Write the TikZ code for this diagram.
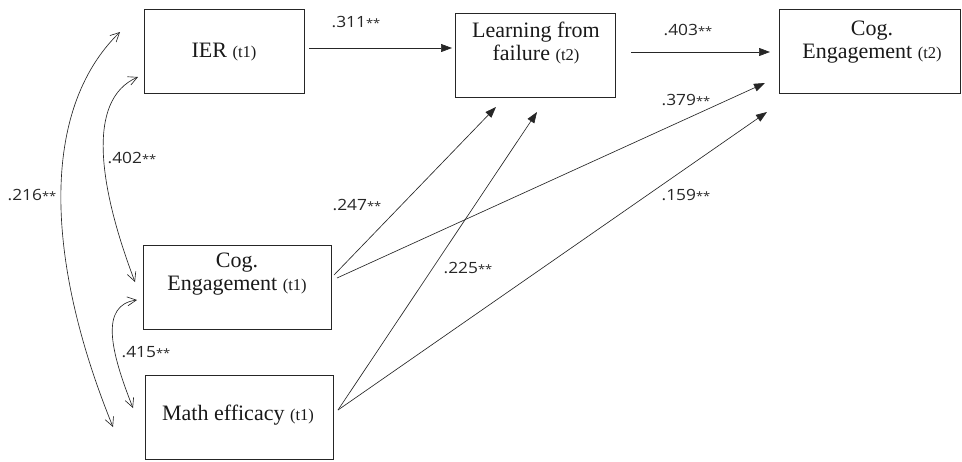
\documentclass[tikz,border=0pt]{standalone}
\usepackage{fontspec}
\setmainfont{Liberation Serif}
\newfontfamily\labfont{Open Sans}[FakeStretch=1.12]
\usetikzlibrary{arrows.meta}
\begin{document}
\begin{tikzpicture}[x=1pt,y=-1pt,
  box/.style={draw=black!85, line width=0.9pt, inner sep=0pt},
  boxtext/.style={align=center, inner sep=0pt, font=\fontsize{22}{23}\selectfont, text=black!90},
  coef/.style={inner sep=0pt, font=\labfont\fontsize{15.5}{16}\selectfont, text=black!85},
  path/.style={draw=black!85, line width=0.65pt, -{Triangle[length=11pt,width=8pt]}},
  cov/.style={draw=black!85, line width=0.65pt, {Straight Barb[length=9pt,width=9pt]}-{Straight Barb[length=9pt,width=9pt]}}
]
\useasboundingbox (0,0) rectangle (962,461);
\newcommand{\timept}[1]{{\fontsize{16.5}{17}\selectfont(#1)}}
\newcommand{\stars}{{\fontsize{11.5}{12}\selectfont**}}

% boxes
\node[box, minimum width=160, minimum height=84] (ier) at (224,51) {};
\node[box, minimum width=160, minimum height=84] (lff) at (535,55) {};
\node[box, minimum width=181, minimum height=84] (cog2) at (869.5,51) {};
\node[box, minimum width=188, minimum height=84] (cog1) at (237,287) {};
\node[box, minimum width=188, minimum height=84] (math) at (239,417) {};

% box texts
\node[boxtext] (iert) at (224,52) {IER \timept{t1}};
\node[boxtext] (lfft) at (536,43) {Learning from\\failure \timept{t2}};
\node[boxtext] (cog2t) at (872,42) {Cog.\\Engagement \timept{t2}};
\node[boxtext] (cog1t) at (237,274) {Cog.\\Engagement \timept{t1}};
\node[boxtext] (matht) at (238,415) {Math efficacy \timept{t1}};

% connector end points
\coordinate (a1) at (309,48);   \coordinate (b1) at (452,48);
\coordinate (a2) at (631,52);   \coordinate (b2) at (770,52);
\coordinate (a3) at (334,275);  \coordinate (b3) at (496,107);
\coordinate (a4) at (337,278);  \coordinate (b4) at (765,83);
\coordinate (a5) at (338,410);  \coordinate (b5) at (537,112);
\coordinate (b6) at (767,112);

\draw[path] (a1) -- (b1);
\draw[path] (a2) -- (b2);
\draw[path] (a3) -- (b3);
\draw[path] (a4) -- (b4);
\draw[path] (a5) -- (b5);
\draw[path] (a5) -- (b6);

% covariances
\coordinate (c1t) at (120,32);  \coordinate (c1b) at (113,427);
\coordinate (c2t) at (138,77);  \coordinate (c2b) at (135,282);
\coordinate (c3t) at (137,300); \coordinate (c3b) at (133,408);
\draw[cov] (c1t) .. controls (40,110) and (45,260) .. (c1b);
\draw[cov] (c2t) .. controls (85,100) and (100,190) .. (c2b);
\draw[cov] (c3t) .. controls (100,305) and (110,350) .. (c3b);

% coefficients
\node[coef] (l311) at (356,22) {.311\stars};
\node[coef] (l403) at (688,30) {.403\stars};
\node[coef] (l379) at (686,100) {.379\stars};
\node[coef] (l159) at (686,195) {.159\stars};
\node[coef] (l247) at (357,205) {.247\stars};
\node[coef] (l225) at (468,268) {.225\stars};
\node[coef] (l402) at (132,158) {.402\stars};
\node[coef] (l216) at (32,195) {.216\stars};
\node[coef] (l415) at (146,352) {.415\stars};
\end{tikzpicture}
\end{document}
